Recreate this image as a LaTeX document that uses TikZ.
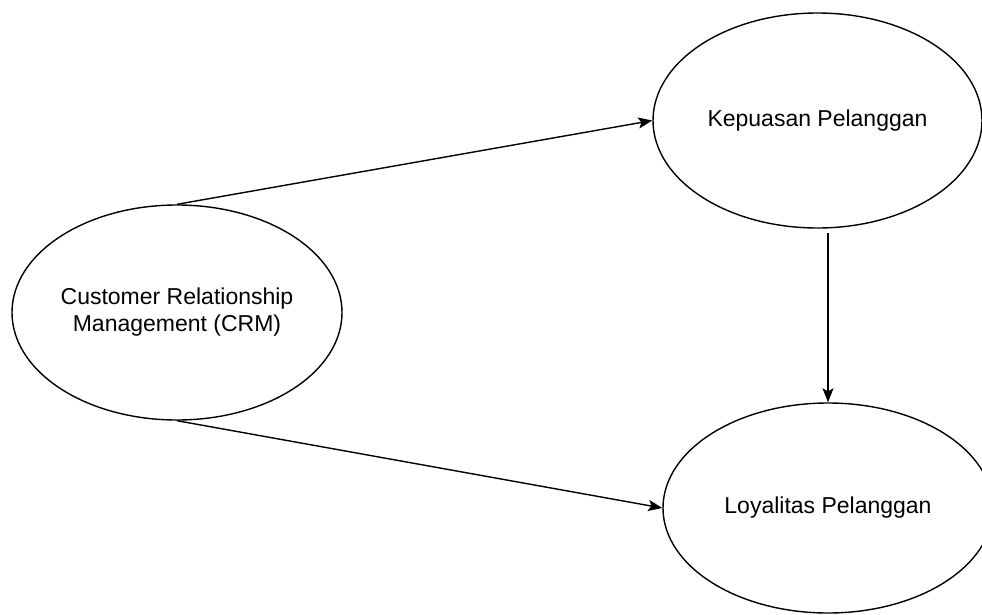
\documentclass[tikz,border=0pt]{standalone}
\usepackage{fontspec}
\setmainfont{Liberation Sans}
\usetikzlibrary{arrows.meta,calc,shapes.geometric}
\begin{document}
\begin{tikzpicture}[x=1pt,y=-1pt,
  ell/.style={ellipse,draw=black,line width=1.4pt,inner sep=0pt,align=center,
    font=\fontsize{23}{27}\selectfont},
  conn/.style={line width=1.4pt,-{Stealth[length=14pt,width=11pt,inset=3pt]}}]
\useasboundingbox (0,0) rectangle (982,614);
\node[ell,minimum width=330pt,minimum height=215pt] (crm) at (177,312.5) {Customer Relationship\\Management (CRM)};
\node[ell,minimum width=329pt,minimum height=215pt] (kep) at (817.5,120.5) {Kepuasan Pelanggan};
\node[ell,minimum width=330pt,minimum height=210pt] (loy) at (828,508) {Loyalitas Pelanggan};
\draw[conn] (crm.north) -- (kep.west);
\draw[conn] (crm.south) -- (loy.west);
\coordinate (ks) at ($(kep.south -| loy.north)+(0,4)$);
\draw[conn] (ks) -- (loy.north);
\end{tikzpicture}
\end{document}
